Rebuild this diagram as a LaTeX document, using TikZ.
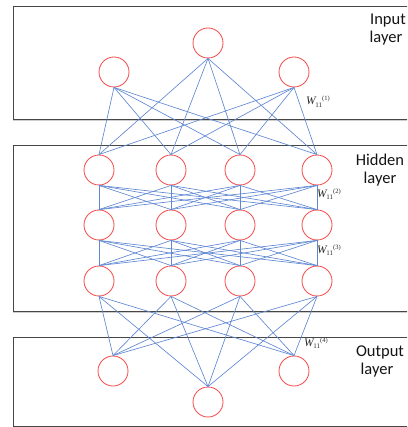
\documentclass[tikz,border=0pt]{standalone}
\usepackage{fontspec}
\setmainfont{Carlito}
\newfontfamily\wfont{Liberation Serif}
\begin{document}
\begin{tikzpicture}[x=1pt,y=-1pt,
  layerbox/.style={draw={rgb,255:red,70;green,70;blue,70},line width=0.85pt},
  boxshadow/.style={draw={rgb,255:red,205;green,205;blue,205},line width=1pt},
  neuron/.style={circle,draw={rgb,255:red,245;green,80;blue,80},line width=0.85pt,
    minimum size=30pt,inner sep=0pt,fill=white},
  wire/.style={draw={rgb,255:red,95;green,135;blue,210},line width=0.65pt},
  laytext/.style={font=\fontsize{16.5}{18}\selectfont,inner sep=0pt,anchor=base,
    text={rgb,255:red,20;green,20;blue,20}},
  wlabel/.style={inner sep=0pt,anchor=base west,font=\wfont,
    text={rgb,255:red,40;green,40;blue,40}}
]
\newcommand{\wsym}[1]{{\fontsize{11.5}{12}\selectfont\itshape W}\kern-0.3pt\raisebox{-2.8pt}{\fontsize{7}{7}\selectfont 11}\raisebox{4pt}{\fontsize{6.5}{7}\selectfont (#1)}}
\clip (0,0) rectangle (407,427);

% layer frames (open to the right), with a soft shadow under the bottom edge
\draw[boxshadow] (13,120.3) -- (420,120.3);
\draw[boxshadow] (13,312.3) -- (420,312.3);
\draw[layerbox] (420,6) -- (13,6) -- (13,119) -- (420,119);
\draw[layerbox] (420,145) -- (13,145) -- (13,311) -- (420,311);
\draw[layerbox] (420,337) -- (13,337) -- (13,426) -- (420,426);

% input neurons
\node[neuron] (i0) at (208,43) {};
\node[neuron] (i1) at (114,72) {};
\node[neuron] (i2) at (294,72) {};

% hidden neurons h<row><col>
\foreach \r/\y in {1/170,2/225,3/281}{
  \foreach \c/\x in {1/99,2/171,3/240,4/317}{
    \node[neuron] (h\r\c) at (\x,\y) {};
  }
}

% output neurons
\node[neuron] (o1) at (113,371) {};
\node[neuron] (o2) at (294,371) {};
\node[neuron] (o0) at (208,402) {};

% input -> first hidden row
\foreach \i in {i0,i1,i2}{
  \foreach \c in {1,2,3,4}{
    \draw[wire] (\i.south) -- (h1\c.north);
  }
}
% hidden -> hidden
\foreach \a/\b in {1/2,2/3}{
  \foreach \c in {1,2,3,4}{
    \foreach \d in {1,2,3,4}{
      \draw[wire] (h\a\c.south) -- (h\b\d.north);
    }
  }
}
% last hidden row -> output
\foreach \c in {1,2,3,4}{
  \foreach \o in {o1,o2,o0}{
    \draw[wire] (h3\c.south) -- (\o.north);
  }
}

% weight labels
\node[wlabel] (w1) at (306,105) {\wsym{1}};
\node[wlabel] (w2) at (317,197) {\wsym{2}};
\node[wlabel] (w3) at (317,253) {\wsym{3}};
\node[wlabel] (w4) at (304,346) {\wsym{4}};

% layer names
\node[laytext] (t1a) at (388,25) {Input};
\node[laytext] (t1b) at (386,43) {layer};
\node[laytext] (t2a) at (380,166) {Hidden};
\node[laytext] (t2b) at (380,184) {layer};
\node[laytext] (t3a) at (380,356) {Output};
\node[laytext] (t3b) at (377,374) {layer};
\end{tikzpicture}
\end{document}
